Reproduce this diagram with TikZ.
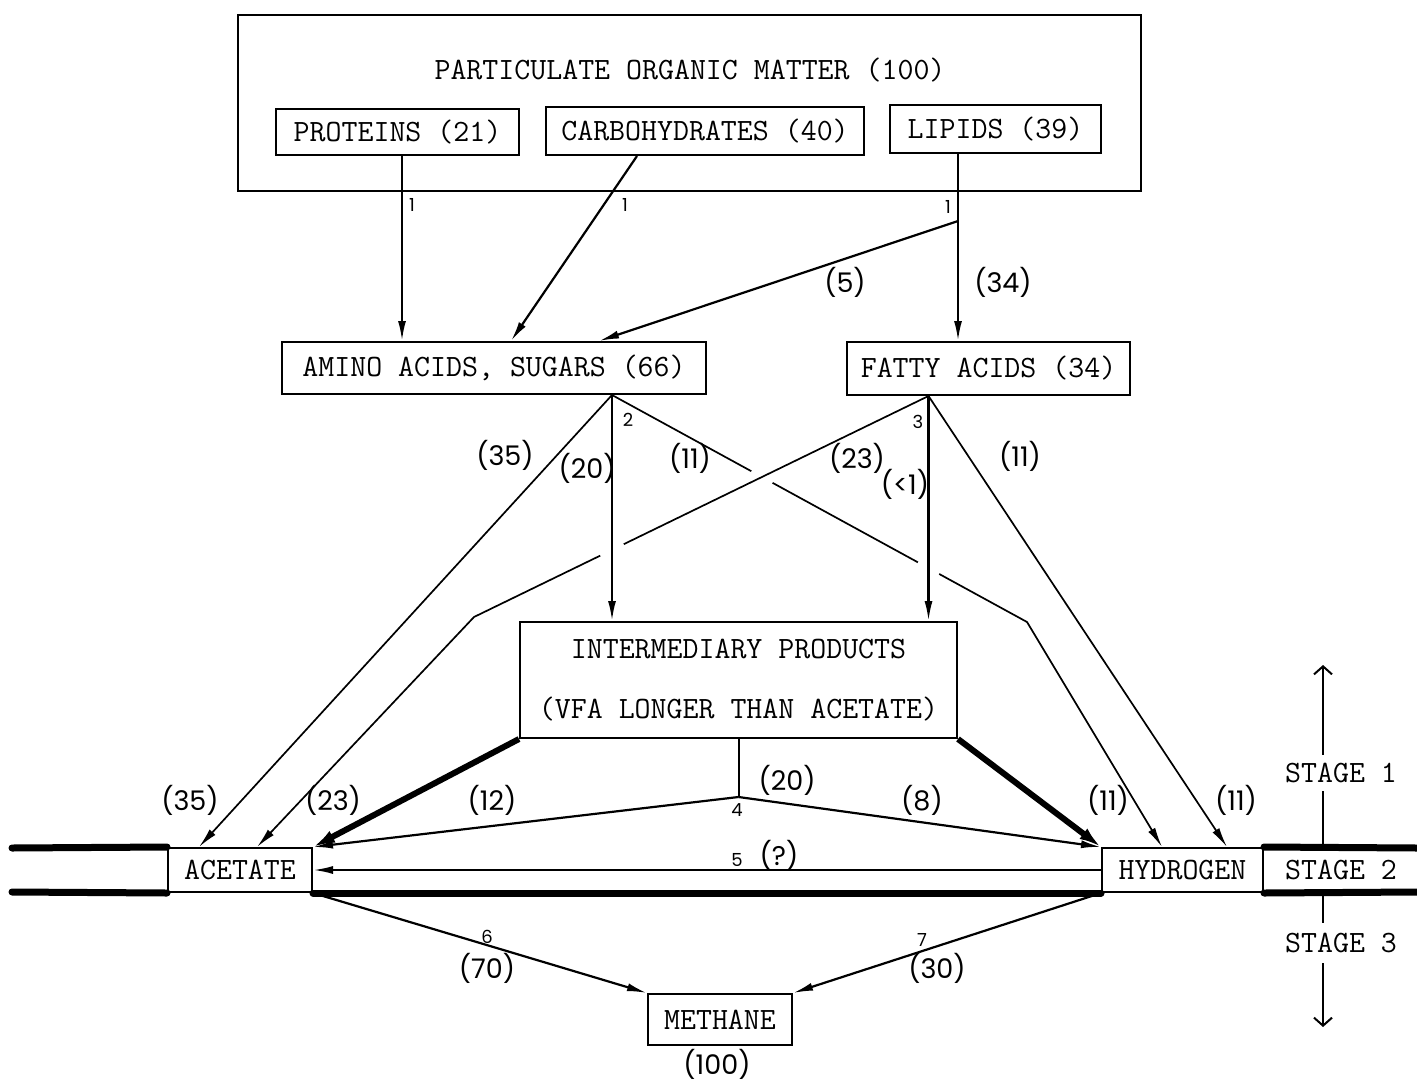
\documentclass[tikz,border=0pt]{standalone}
\usepackage{fontspec}
\newfontfamily\numfont{Poppins}
\usetikzlibrary{arrows.meta,calc}
\begin{document}
\begin{tikzpicture}[x=0.5pt,y=-0.5pt,
  box/.style={draw, line width=1pt, fill=white, inner sep=0pt, font=\fontsize{15.5}{18}\selectfont\ttfamily},
  txt/.style={font=\fontsize{15.5}{18}\selectfont\ttfamily},
  lbl/.style={font=\fontsize{13.5}{16}\selectfont\numfont, inner sep=1pt},
  tiny/.style={font=\fontsize{9}{10}\selectfont\numfont, inner sep=0pt},
  arr/.style={line width=1.1pt, -{Latex[length=10pt,width=4pt]}},
  thinline/.style={line width=0.85pt},
  gapw/.style={draw=white, line width=3pt},
  fatline/.style={line width=3pt, -{Latex[length=11pt,width=6.5pt]}},
  bar/.style={line width=3.5pt, line cap=round},
  stg/.style={font=\fontsize{15.5}{18}\selectfont\ttfamily, inner sep=4pt},
]
\useasboundingbox (0,0) rectangle (1417,1086);

% boxes
\node[box, line width=1.2pt, minimum width=451.5pt, minimum height=88pt, anchor=north west] (pom) at (237,14) {};
\node[txt] (pomt) at (690,70) {PARTICULATE ORGANIC MATTER (100)};
\node[box, minimum width=121.5pt, minimum height=23pt] (prot) at (397.5,132) {PROTEINS (21)};
\node[box, minimum width=159pt, minimum height=24pt] (carb) at (705,131) {CARBOHYDRATES (40)};
\node[box, minimum width=105.5pt, minimum height=24pt] (lip) at (995.5,129) {LIPIDS (39)};
\node[box, minimum width=212pt, minimum height=26pt] (amino) at (494,368) {AMINO ACIDS, SUGARS (66)};
\node[box, minimum width=141.5pt, minimum height=26.5pt] (fatty) at (988.5,368.5) {FATTY ACIDS (34)};
\node[box, minimum width=218.5pt, minimum height=58pt, align=center] (inter) at (738.5,680) {INTERMEDIARY PRODUCTS\\[12pt](VFA LONGER THAN ACETATE)};
\node[box, minimum width=72pt, minimum height=22pt] (acet) at (240,870) {ACETATE};
\node[box, minimum width=80.5pt, minimum height=22pt] (hyd) at (1182.5,870) {HYDROGEN};
\node[box, minimum width=72pt, minimum height=25.5pt] (meth) at (720,1019.5) {METHANE};

% stage bars
\coordinate (bl1) at (12,848);
\coordinate (br1) at (1417,848);
\coordinate (bl2) at (12,892);
\coordinate (br2) at (1417,892);
\draw[bar] (bl1) -- (acet.north west);
\draw[bar] (hyd.north east) -- (br1);
\draw[bar] (bl2) -- (acet.south west);
\draw[bar] (acet.south east) -- (hyd.south west);
\draw[bar] (hyd.south east) -- (br2);

% stage axis
\coordinate (axt) at (1323,665);
\coordinate (axa) at (1323,848);
\coordinate (axb) at (1323,892);
\coordinate (axe) at (1323,1027);
\node[stg] (s1) at (1341,773) {STAGE 1};
\node[stg] (s2) at (1341,870) {STAGE 2};
\node[stg, inner sep=5pt] (s3) at (1341,943) {STAGE 3};
\draw[line width=1pt, -{Straight Barb[length=4pt,width=9pt]}] (s1.north -| axt) -- (axt);
\draw[line width=1pt] (s1.south -| axt) -- (axa);
\draw[line width=1pt] (axb) -- (s3.north -| axb);
\draw[line width=1pt, -{Straight Barb[length=4pt,width=9pt]}] (s3.south -| axb) -- (axe);

% stage 1 top connectors
\coordinate (P1) at ($(prot.south)+(4.5,0)$);
\coordinate (C1) at ($(carb.south)+(-68,0)$);
\coordinate (L1) at ($(lip.south)+(-37.5,0)$);
\coordinate (LB) at ($(L1)+(0,67)$);
\draw[arr] (P1) -- (P1 |- amino.north);
\draw[arr] (C1) -- ($(amino.north west)+(230,0)$);
\draw[arr] (L1) -- (L1 |- fatty.north);
\draw[arr] (LB) -- ($(amino.north west)+(318,0)$);
\node[tiny] (n1a) at (412,205) {1};
\node[tiny] (n1b) at (625,205) {1};
\node[tiny] (n1c) at (948,207) {1};
\node[lbl] (l5) at (845,282) {(5)};
\node[lbl] (l34) at (1003,282) {(34)};

% middle connectors
\coordinate (A2) at ($(amino.south)+(118,0)$);
\coordinate (F3) at ($(fatty.south)+(-60,0)$);
\coordinate (K11) at (1027,622);
\coordinate (K23) at (474,617);
\coordinate (H1) at ($(hyd.north west)+(61,0)$);
\coordinate (H2) at ($(hyd.north west)+(126,0)$);
\coordinate (AC1) at ($(acet.north west)+(32,0)$);
\coordinate (AC2) at ($(acet.north west)+(90,0)$);
\coordinate (A2v) at (A2 |- inter.north);
\coordinate (F3v) at (F3 |- inter.north);

\draw[arr, thinline] (A2) -- (AC1);
\draw[arr, thinline] (A2) -- (K11) -- (H1);
\coordinate (X1) at (intersection of A2--K11 and F3--K23);
\coordinate (X2) at (intersection of A2--K11 and F3--F3v);
\draw[gapw] ($(X1)!6pt!(A2)$) -- ($(X1)!6pt!(K11)$);
\draw[gapw] ($(X2)!6pt!(A2)$) -- ($(X2)!6pt!(K11)$);
\draw[arr, thinline] (F3) -- (K23) -- (AC2);
\coordinate (X3) at (intersection of F3--K23 and A2--A2v);
\draw[gapw] ($(X3)!6.5pt!(F3)$) -- ($(X3)!6.5pt!(K23)$);
\draw[arr] (A2) -- (A2v);
\draw[arr] (F3) -- (F3v);
\draw[arr, thinline] (F3) -- (H2);

\node[tiny] (n2) at (628,420) {2};
\node[tiny] (n3) at (918,422) {3};
\node[lbl] (l35a) at (505,455) {(35)};
\node[lbl] (l20a) at (587,468) {(20)};
\node[lbl] (l11a) at (690,458) {(11)};
\node[lbl] (l23a) at (857,458) {(23)};
\node[lbl] (llt1) at (905,484) {(<1)};
\node[lbl] (l11b) at (1020,456) {(11)};

% stage 2
\draw[fatline] (inter.south west) -- (acet.north east);
\draw[fatline] (inter.south east) -- (hyd.north west);
\coordinate (N4) at (738.5,797);
\draw[line width=1pt] (inter.south) -- (N4);
\draw[arr] (N4) -- (acet.north east);
\draw[arr] (N4) -- (hyd.north west);
\draw[arr] (hyd.west) -- (acet.east);
\node[tiny] (n4) at (737,810) {4};
\node[lbl] (l20b) at (787,780) {(20)};
\node[lbl] (l12) at (492,800) {(12)};
\node[lbl] (l8) at (922,800) {(8)};
\node[lbl] (l35b) at (190,800) {(35)};
\node[lbl] (l23b) at (333,800) {(23)};
\node[lbl] (l11c) at (1108,800) {(11)};
\node[lbl] (l11d) at (1236,800) {(11)};
\node[tiny] (n5) at (737,860) {5};
\node[lbl] (lq) at (779,855) {(?)};

% stage 3
\draw[arr] (acet.south east) -- (meth.north west);
\draw[arr] (hyd.south west) -- (meth.north east);
\node[tiny] (n6) at (487,937) {6};
\node[lbl] (l70) at (487,968) {(70)};
\node[tiny] (n7) at (922,940) {7};
\node[lbl] (l30) at (937,968) {(30)};
\node[lbl] (l100) at (717,1064) {(100)};
\end{tikzpicture}
\end{document}
